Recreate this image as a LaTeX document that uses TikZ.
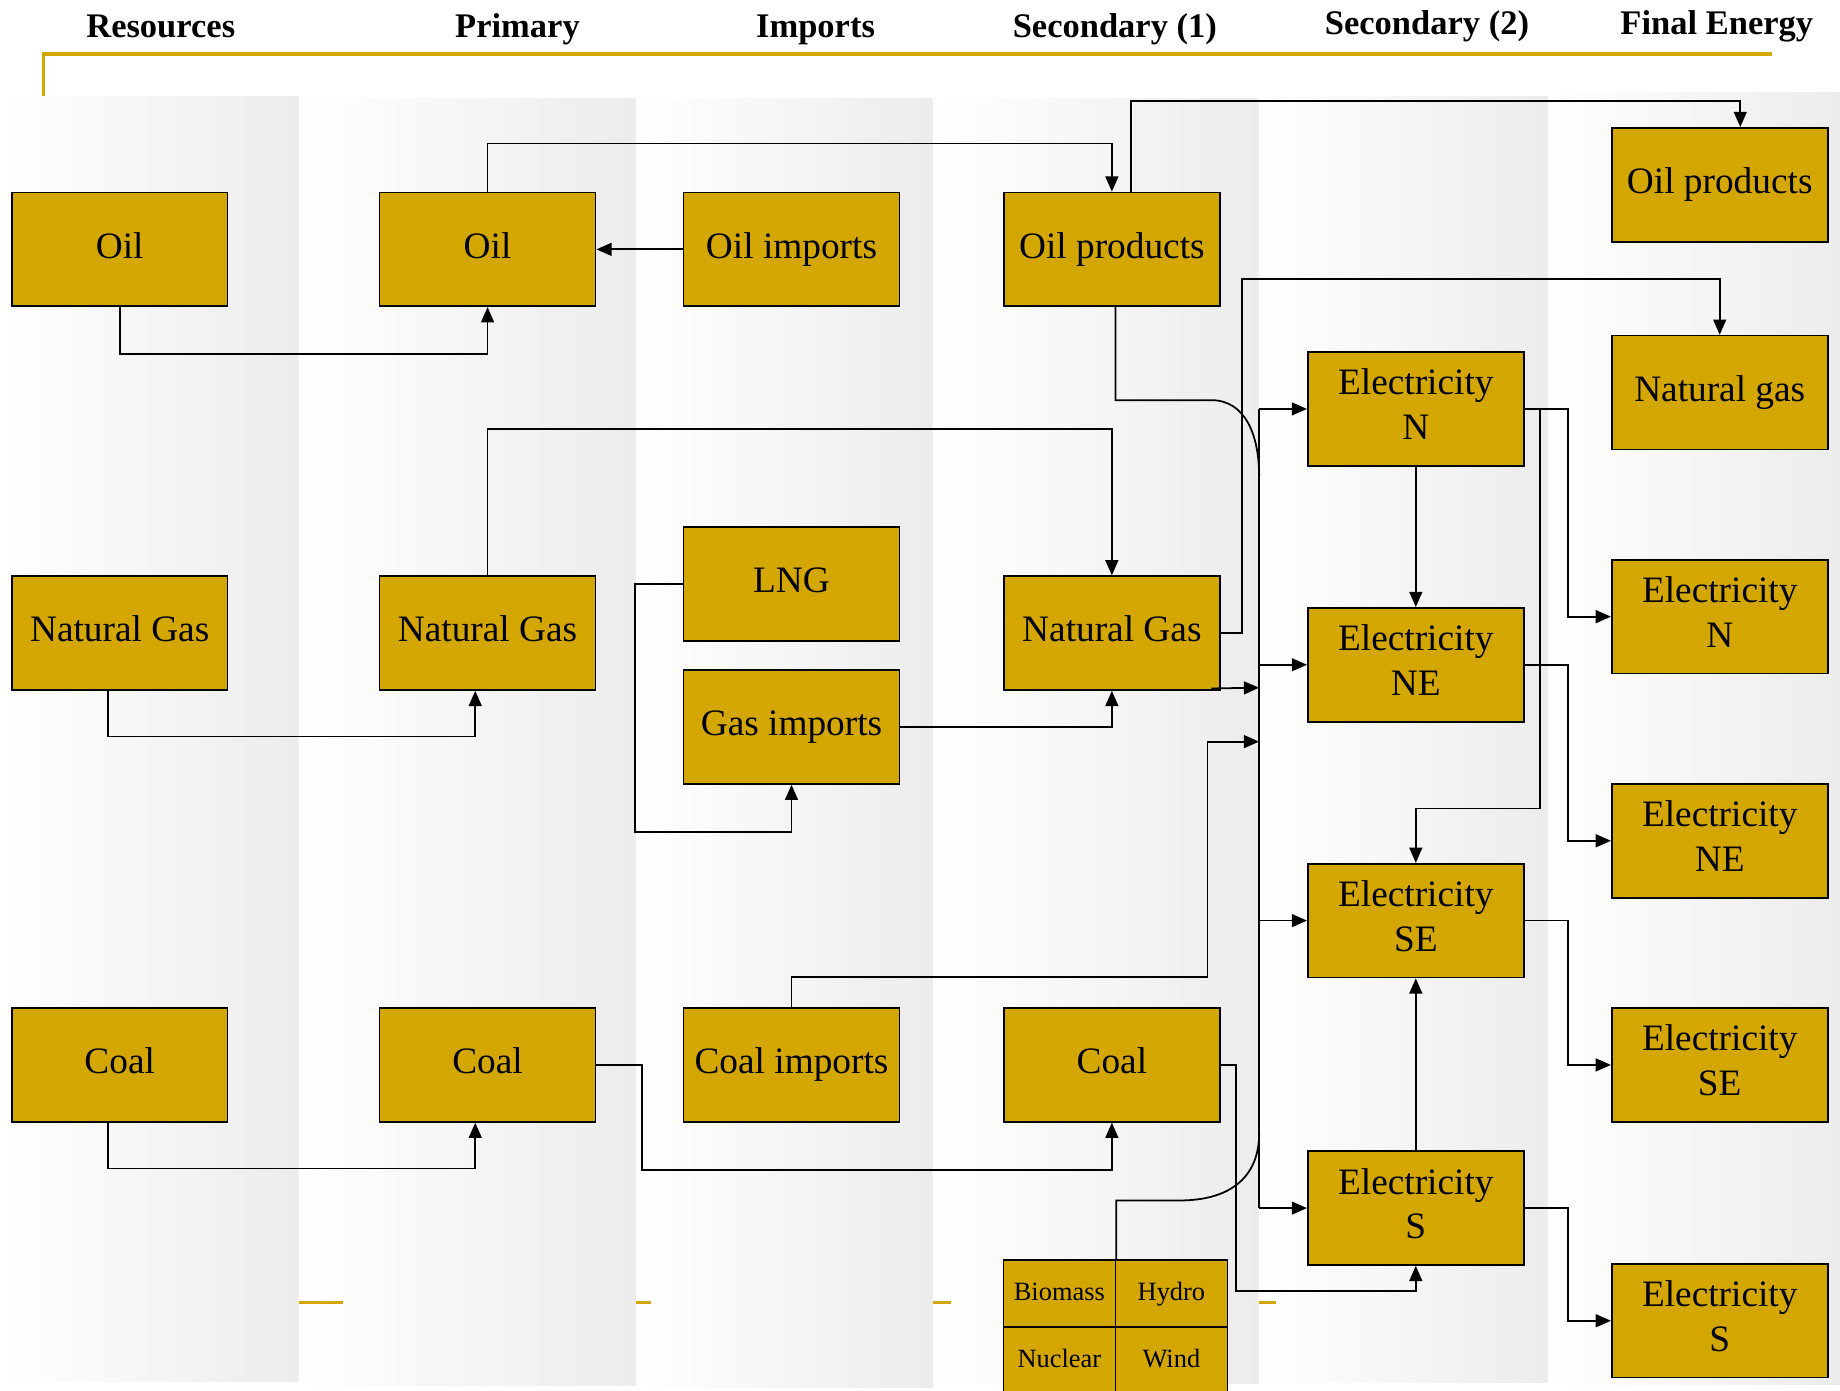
\documentclass[tikz,border=0pt]{standalone}
\usepackage{fontspec}
\setmainfont{Liberation Serif}
\usetikzlibrary{arrows.meta,calc}
\definecolor{boxy}{RGB}{212,167,0}
\definecolor{bandgray}{RGB}{236,236,236}
\newcommand\mystrut{\rule[-8pt]{0pt}{31pt}}
\newcommand\mycellstrut{\rule[-6pt]{0pt}{23pt}}
\tikzset{
  box/.style={draw=black, fill=boxy, line width=1.4pt, minimum width=184pt, minimum height=97pt,
    inner sep=0pt, align=center, font=\fontsize{31.8}{38}\selectfont,
    execute at begin node=\mystrut},
  cell/.style={draw=black, fill=boxy, line width=1.4pt, minimum width=95.5pt, minimum height=57pt,
    inner sep=0pt, font=\fontsize{22.5}{27}\selectfont,
    execute at begin node=\mycellstrut},
  head/.style={anchor=base, inner sep=0pt, font=\fontsize{29.4}{35}\selectfont\bfseries},
  band/.style={left color=white, right color=bandgray},
  yline/.style={draw=boxy, line width=3pt},
  conn/.style={draw=black, line width=1.5pt},
  arr/.style={conn, -{Triangle[length=13pt,width=11pt]}},
}
\begin{document}
\begin{tikzpicture}[x=1pt,y=-1pt]
\useasboundingbox (0,0) rectangle (1568,1185);
\fill[white] (0,0) rectangle (1568,1185);
% background bands
\shade[band] (0,82) rectangle (255,1177);
\shade[band] (255,84) rectangle (542,1181);
\shade[band] (542,84) rectangle (795,1182);
\shade[band] (795,84) rectangle (1073,1179);
\shade[band] (1073,82) rectangle (1319,1178);
\shade[band] (1319,79) rectangle (1568,1180);
% yellow header line and dashes
\draw[yline] (37,82) -- (37,46) -- (1510,46);
\draw[yline] (255,1110) -- (292,1110);
\draw[yline] (542,1110) -- (555,1110);
\draw[yline] (795,1110) -- (810,1110);
\draw[yline] (1073,1110) -- (1087,1110);
% headers
\node[head] (h1) at (137,32) {Resources};
\node[head] (h2) at (441,32) {Primary};
\node[head] (h3) at (695,32) {Imports};
\node[head] (h4) at (950,32) {Secondary (1)};
\node[head] (h5) at (1216,29) {Secondary (2)};
\node[head] (h6) at (1463,29) {Final Energy};
% boxes
\node[box] (roil) at (102,212.5) {Oil};
\node[box] (rng) at (102,539.5) {Natural Gas};
\node[box] (rcoal) at (102,907.5) {Coal};
\node[box] (poil) at (415.5,212.5) {Oil};
\node[box] (png) at (415.5,539.5) {Natural Gas};
\node[box] (pcoal) at (415.5,907.5) {Coal};
\node[box] (ioil) at (674.5,212.5) {Oil imports};
\node[box] (lng) at (674.5,497.5) {LNG};
\node[box] (igas) at (674.5,619.5) {Gas imports};
\node[box] (icoal) at (674.5,907.5) {Coal imports};
\node[box] (soil) at (947.5,212.5) {Oil products};
\node[box] (sng) at (947.5,539.5) {Natural Gas};
\node[box] (scoal) at (947.5,907.5) {Coal};
\node[box] (en) at (1206.5,348.5) {Electricity\\N};
\node[box] (ene) at (1206.5,566.5) {Electricity\\NE};
\node[box] (ese) at (1206.5,784.5) {Electricity\\SE};
\node[box] (es) at (1206.5,1029.5) {Electricity\\S};
\node[box] (foil) at (1465.5,157.5) {Oil products};
\node[box] (fng) at (1465.5,334.5) {Natural gas};
\node[box] (fen) at (1465.5,525.5) {Electricity\\N};
\node[box] (fene) at (1465.5,716.5) {Electricity\\NE};
\node[box] (fese) at (1465.5,907.5) {Electricity\\SE};
\node[box] (fes) at (1465.5,1125.5) {Electricity\\S};
% renewables grid
\node[cell] (bio) at (902.75,1102.5) {Biomass};
\node[cell] (hyd) at (998.25,1102.5) {Hydro};
\node[cell] (nuc) at (902.75,1159.5) {Nuclear};
\node[cell] (wind) at (998.25,1159.5) {Wind};
% bus coordinates
\coordinate (bx) at (1073,0);
\coordinate (opc) at (1032,341);
\coordinate (opj) at (1073,406);
\coordinate (rnc) at (1005,1023);
\coordinate (rnj) at (1073,966);
\coordinate (bng) at (1073,586);
\coordinate (bci) at (1073,632);
% connectors
\draw[arr] (roil.south) -- ++(0,40) -| (poil.south);
\draw[arr] (ioil.west) -- (poil.east);
\draw[arr] (poil.north) -- ++(0,-41) -| (soil.north);
\draw[arr] ($(soil.north)+(16.5,0)$) -- ++(0,-77) -| ($(foil.north)+(17.5,0)$);
\draw[conn] ($(soil.south)+(3,0)$) |- (opc) .. controls (1062,341) and (1073,372) .. (opj);
\draw[conn] (bio.north east) |- (rnc) .. controls (1052,1023) and (1073,1000) .. (rnj);
\draw[conn] (bx |- en.west) -- (bx |- es.west);
\draw[arr] (bx |- en.west) -- (en.west);
\draw[arr] (bx |- ene.west) -- (ene.west);
\draw[arr] (bx |- ese.west) -- (ese.west);
\draw[arr] (bx |- es.west) -- (es.west);
\draw[arr] ($(sng.south east)+(-8,-2)$) -- (bng);
\draw[arr] (icoal.north) -- ++(0,-26) -| (1029,632) -- (bci);
\draw[arr] (sng.east) -- ++(18,0) -- ++(0,-301.5) -| (fng.north);
\draw[arr] (scoal.east) -- ++(13,0) -- ++(0,192.5) -| (es.south);
\draw[arr] ($(rng.south)+(-10,0)$) -- ++(0,39) -| ($(png.south)+(-10.5,0)$);
\draw[arr] ($(rcoal.south)+(-10,0)$) -- ++(0,39) -| ($(pcoal.south)+(-10.5,0)$);
\draw[arr] (png.north) -- ++(0,-125) -| (sng.north);
\draw[arr] (lng.west) -- ++(-41,0) -- ++(0,211.5) -| (igas.south);
\draw[arr] (igas.east) -| (sng.south);
\draw[arr] (pcoal.east) -- ++(39,0) -- ++(0,89.5) -| (scoal.south);
\draw[arr] (en.south) -- (ene.north);
\draw[arr] (es.north) -- (ese.south);
\draw[arr] (en.east) -- ++(13,0) -- ++(0,340.5) -| (ese.north);
\draw[arr] (en.east) -- ++(37,0) |- (fen.west);
\draw[arr] (ene.east) -- ++(37,0) |- (fene.west);
\draw[arr] (ese.east) -- ++(37,0) |- (fese.west);
\draw[arr] (es.east) -- ++(37,0) |- (fes.west);
\end{tikzpicture}
\end{document}
